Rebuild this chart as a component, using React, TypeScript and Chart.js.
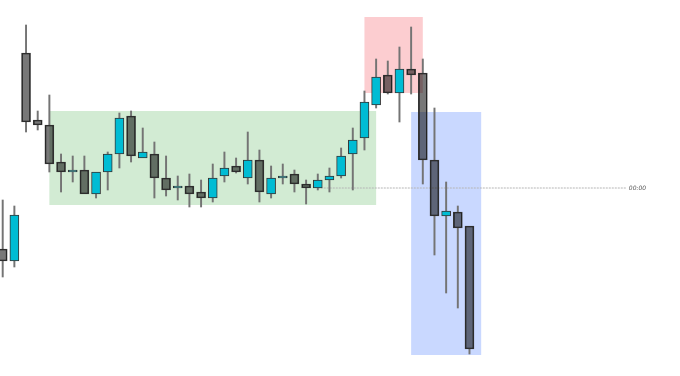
import React, { useEffect, useRef } from "react";
import { Chart, registerables } from "chart.js";

Chart.register(...registerables);

// OHLC values (arbitrary price units)
const opens = [127, 115, 323, 256, 251, 214, 204, 206, 182, 204, 222, 260, 218, 222, 198, 188, 190, 184, 178, 200, 210, 198, 216, 182, 198, 202, 192, 188, 196, 200, 222, 238, 271, 301, 283, 307, 303, 216, 160, 164, 150];
const highs = [176, 170, 351, 265, 281, 222, 220, 220, 204, 224, 263, 265, 248, 234, 220, 200, 202, 196, 212, 224, 218, 244, 226, 210, 212, 206, 196, 202, 208, 228, 248, 285, 317, 315, 329, 349, 317, 268, 194, 170, 150];
const lows = [99, 109, 244, 246, 204, 184, 194, 182, 178, 186, 208, 214, 218, 178, 180, 176, 169, 169, 174, 194, 203, 192, 174, 178, 192, 184, 172, 186, 184, 198, 186, 226, 268, 282, 254, 282, 192, 121, 83, 68, 22];
const closes = [115, 161, 254, 251, 212, 204, 206, 182, 204, 222, 258, 220, 224, 198, 186, 190, 182, 178, 198, 208, 204, 216, 184, 198, 200, 192, 188, 196, 200, 220, 236, 274, 299, 283, 307, 301, 216, 160, 165, 148, 27];

// Zones: [fromIndex, toIndex, top, bottom]
const greenZone = [4, 32, 265, 171];
const redZone = [31, 36, 359, 283];
const blueZone = [35, 41, 264, 21];

// Reference level line
const levelValue = 188;
const levelFrom = 27;
const levelTo = 53.4;
const levelLabel = "00:00";

const X_MIN = -0.2314;
const X_MAX = 58.04;

export default function App() {
  const ref = useRef<HTMLCanvasElement | null>(null);

  useEffect(() => {
    document.body.style.margin = "0";
    const canvas = ref.current;
    if (!canvas) return;

    const bull = "#00BCD4";
    const bear = "rgba(0,0,0,0.53)";

    const bodies = opens.map((o, i) => ({ x: i, y: [o, closes[i]] }));
    const bodyColors = opens.map((o, i) => (closes[i] >= o ? bull : bear));
    const wicks: { x: number; y: number[] }[] = [];
    opens.forEach((o, i) => {
      const top = Math.max(o, closes[i]);
      const bot = Math.min(o, closes[i]);
      if (highs[i] > top) wicks.push({ x: i, y: [top, highs[i]] });
      if (lows[i] < bot) wicks.push({ x: i, y: [lows[i], bot] });
    });

    const zones = [
      { z: greenZone, c: "rgba(76,175,80,0.25)" },
      { z: redZone, c: "rgba(242,54,69,0.25)" },
      { z: blueZone, c: "rgba(41,98,255,0.25)" },
    ];

    const zonePlugin = {
      id: "zones",
      beforeDatasetsDraw(chart: any) {
        const { ctx, scales } = chart;
        const xs = scales.x;
        const ys = scales.y;
        ctx.save();
        zones.forEach(({ z, c }) => {
          const x1 = xs.getPixelForValue(z[0]);
          const x2 = xs.getPixelForValue(z[1]);
          const y1 = ys.getPixelForValue(z[2]);
          const y2 = ys.getPixelForValue(z[3]);
          ctx.fillStyle = c;
          ctx.fillRect(x1, y1, x2 - x1, y2 - y1);
        });
        ctx.restore();
      },
      afterDatasetsDraw(chart: any) {
        const { ctx, scales } = chart;
        const x = scales.x.getPixelForValue(levelTo) + 3;
        const y = scales.y.getPixelForValue(levelValue);
        ctx.save();
        ctx.fillStyle = "#555";
        ctx.font = "italic 6px 'DejaVu Sans', sans-serif";
        ctx.textBaseline = "middle";
        ctx.textAlign = "left";
        ctx.fillText(levelLabel, x, y);
        ctx.restore();
      },
    };

    const chart = new Chart(canvas, {
      type: "bar",
      data: {
        datasets: [
          {
            type: "line",
            data: [
              { x: levelFrom, y: levelValue },
              { x: levelTo, y: levelValue },
            ],
            borderColor: "#b5b5b5",
            borderWidth: 1,
            borderDash: [2, 1],
            pointRadius: 0,
            order: 3,
          } as any,
          {
            data: wicks as any,
            backgroundColor: "#747474",
            borderWidth: 0,
            barThickness: 1.3,
            grouped: false,
            order: 2,
          } as any,
          {
            data: bodies as any,
            backgroundColor: bodyColors,
            borderColor: "#353535",
            borderWidth: 1,
            borderSkipped: false,
            barThickness: 9,
            grouped: false,
            order: 1,
          } as any,
        ],
      },
      options: {
        animation: false,
        responsive: false,
        devicePixelRatio: 1,
        layout: { padding: 0 },
        plugins: { legend: { display: false }, tooltip: { enabled: false } },
        scales: {
          x: {
            type: "linear",
            display: false,
            min: X_MIN,
            max: X_MAX,
            offset: false,
            grid: { offset: false },
          },
          y: { display: false, min: 0, max: 376 },
        },
      } as any,
      plugins: [zonePlugin],
    });

    return () => chart.destroy();
  }, []);

  return (
    <div style={{ position: "fixed", left: 0, top: 0, width: 680, height: 376, background: "#fff" }}>
      <canvas ref={ref} width={680} height={376} style={{ display: "block" }} />
    </div>
  );
}
